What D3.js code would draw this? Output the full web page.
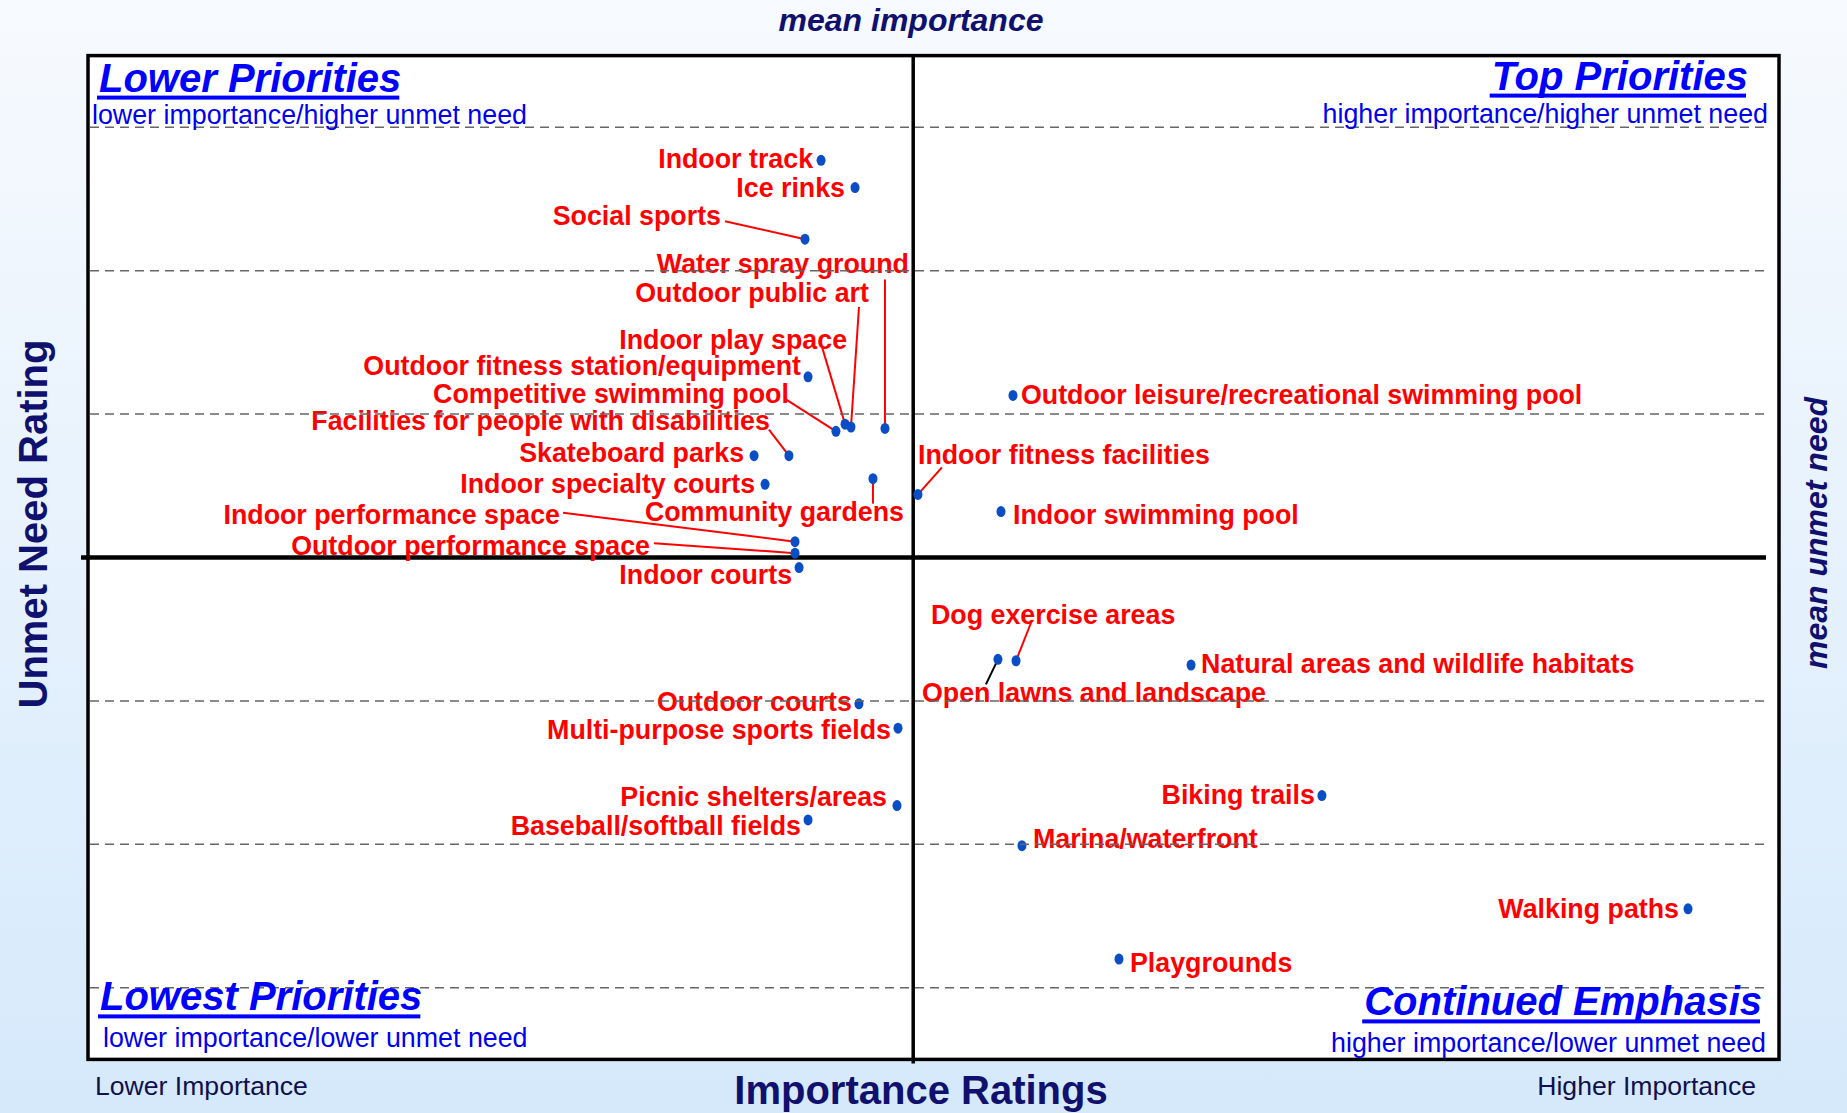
<!doctype html>
<html lang="en">
  <head>
    <meta charset="utf-8">
    <title>Importance vs Unmet Need</title>
    <script src="https://d3js.org/d3.v7.min.js"></script>
    <style>
    body { margin: 0; }
    text { font-family: "Liberation Sans", Arial, sans-serif; }
    .label { fill: #ff0000; font-weight: bold; font-size: 26.8px; }
    .grid { stroke: #666; stroke-width: 1.5; stroke-dasharray: 9 6; }
    .quad { fill: #0000ff; font-weight: bold; font-style: italic; font-size: 40px; }
    .sub { fill: #0000ee; font-size: 26.8px; }
    .axis-title { fill: #10106e; font-weight: bold; font-size: 40px; }
    .mean-title { fill: #10106e; font-weight: bold; font-style: italic; font-size: 32px; }
    .end-label { fill: #10104e; font-size: 26.6px; }
    </style>
  </head>

  <body>
    <svg width="1847" height="1113"></svg>

    <script>
      var facilities = [
        "Indoor track", "Ice rinks", "Social sports", "Water spray ground",
        "Outdoor public art", "Indoor play space", "Outdoor fitness station/equipment",
        "Competitive swimming pool", "Facilities for people with disabilities",
        "Skateboard parks", "Indoor specialty courts", "Community gardens",
        "Indoor fitness facilities", "Indoor performance space", "Outdoor performance space",
        "Indoor courts", "Outdoor leisure/recreational swimming pool", "Indoor swimming pool",
        "Dog exercise areas", "Open lawns and landscape", "Natural areas and wildlife habitats",
        "Outdoor courts", "Multi-purpose sports fields", "Picnic shelters/areas",
        "Baseball/softball fields", "Biking trails", "Marina/waterfront",
        "Walking paths", "Playgrounds"
      ];
      var importance = [
        43.35, 45.36, 42.40, 47.13,
        45.12, 44.77, 42.58,
        44.23, 41.45,
        39.39, 40.04, 46.42,
        49.08, 41.81, 41.81,
        42.05, 54.70, 53.99,
        54.88, 53.81, 65.23,
        45.59, 47.90, 47.84,
        42.58, 72.97, 55.23,
        94.62, 60.97
      ];
      var unmetNeed = [
        6.77, 6.58, 6.22, 4.90,
        4.91, 4.93, 5.26,
        4.88, 4.71,
        4.71, 4.51, 4.55,
        4.44, 4.11, 4.03,
        3.93, 5.13, 4.32,
        3.28, 3.29, 3.25,
        2.98, 2.81, 2.27,
        2.17, 2.34, 1.99,
        1.55, 1.20
      ];
      var gridValues = [1, 2, 3, 5, 6, 7];
      var meanImportance = 48.8;
      var meanUnmetNeed = 4;

      // label placement: anchor, dx, dy, leader start (dx, dy), leader colour
      var labelPlacement = {
        "Indoor track": ["end", -8, 8],
        "Ice rinks": ["end", -10, 9],
        "Social sports": ["end", -84, -14, -80, -18],
        "Water spray ground": ["end", 24, -155, 0, -149],
        "Outdoor public art": ["end", 18, -125, 8, -120],
        "Indoor play space": ["end", 2, -75, -23, -77],
        "Outdoor fitness station/equipment": ["end", -7, -2],
        "Competitive swimming pool": ["end", -47, -28, -50, -32],
        "Facilities for people with disabilities": ["end", -19, -26, -20, -26],
        "Skateboard parks": ["end", -10, 6],
        "Indoor specialty courts": ["end", -10, 9],
        "Community gardens": ["end", 31, 42, 0, 25],
        "Indoor fitness facilities": ["start", 0, -30, 24, -27],
        "Indoor performance space": ["end", -235, -18, -232, -29],
        "Outdoor performance space": ["end", -145, 2, -141, -10],
        "Indoor courts": ["end", -7, 16],
        "Outdoor leisure/recreational swimming pool": ["start", 8, 9],
        "Indoor swimming pool": ["start", 12, 12],
        "Dog exercise areas": ["start", -85, -37, 15, -38],
        "Open lawns and landscape": ["start", -76, 43, -12, 25, "#000"],
        "Natural areas and wildlife habitats": ["start", 10, 8],
        "Outdoor courts": ["end", -7, 7],
        "Multi-purpose sports fields": ["end", -7, 11],
        "Picnic shelters/areas": ["end", -10, 0],
        "Baseball/softball fields": ["end", -7, 15],
        "Biking trails": ["end", -7, 8],
        "Marina/waterfront": ["start", 11, 2],
        "Walking paths": ["end", -9, 9],
        "Playgrounds": ["start", 11, 13]
      };

      var data = facilities.map(function(name, i) {
        return { name: name, x: importance[i], y: unmetNeed[i] };
      });

      var svg = d3.select('svg');

      var x = d3.scaleLinear().domain([0, 100]).range([88, 1779]);
      var y = d3.scaleLinear().domain([0.5, 7.5]).range([1059.4, 55.6]);

      var plotLeft = x.range()[0], plotRight = x.range()[1];
      var plotTop = y.range()[1], plotBottom = y.range()[0];

      // background gradient
      var grad = svg.append('defs').append('linearGradient')
        .attr('id', 'bg').attr('x1', 0).attr('y1', 0).attr('x2', 0).attr('y2', 1);
      grad.append('stop').attr('offset', '0%').attr('stop-color', '#f7fafe');
      grad.append('stop').attr('offset', '100%').attr('stop-color', '#d5e9fb');
      svg.append('rect').attr('width', 1847).attr('height', 1113).attr('fill', 'url(#bg)');

      svg.append('rect')
        .attr('x', plotLeft).attr('y', plotTop)
        .attr('width', plotRight - plotLeft).attr('height', plotBottom - plotTop)
        .attr('fill', '#fff');

      // mean lines
      svg.append('line')
        .attr('x1', x(meanImportance)).attr('x2', x(meanImportance))
        .attr('y1', plotTop).attr('y2', plotBottom + 4)
        .attr('stroke', '#000').attr('stroke-width', 3.5);
      svg.append('line')
        .attr('x1', plotLeft - 7).attr('x2', plotRight - 13)
        .attr('y1', y(meanUnmetNeed)).attr('y2', y(meanUnmetNeed))
        .attr('stroke', '#000').attr('stroke-width', 4.5);

      // leader lines
      svg.selectAll('line.leader')
        .data(data.filter(function(d) { return labelPlacement[d.name].length > 3; }))
        .enter().append('line')
          .attr('class', 'leader')
          .attr('x1', function(d) { return x(d.x) + labelPlacement[d.name][3]; })
          .attr('y1', function(d) { return y(d.y) + labelPlacement[d.name][4]; })
          .attr('x2', function(d) { return x(d.x); })
          .attr('y2', function(d) { return y(d.y); })
          .attr('stroke', function(d) { return labelPlacement[d.name][5] || '#ff0000'; })
          .attr('stroke-width', 2);

      svg.selectAll('ellipse')
        .data(data)
        .enter().append('ellipse')
          .attr('cx', function(d) { return x(d.x); })
          .attr('cy', function(d) { return y(d.y); })
          .attr('rx', 4.5).attr('ry', 5.5)
          .attr('fill', '#0a4ec6');

      svg.selectAll('text.label')
        .data(data)
        .enter().append('text')
          .attr('class', 'label')
          .attr('text-anchor', function(d) { return labelPlacement[d.name][0]; })
          .attr('x', function(d) { return x(d.x) + labelPlacement[d.name][1]; })
          .attr('y', function(d) { return y(d.y) + labelPlacement[d.name][2]; })
          .text(function(d) { return d.name; });

      // dashed grid lines, drawn over the labels as in the original
      svg.selectAll('line.grid')
        .data(gridValues)
        .enter().append('line')
          .attr('class', 'grid')
          .attr('x1', plotLeft + 2).attr('x2', plotRight - 9)
          .attr('y1', y).attr('y2', y);

      // frame
      svg.append('rect')
        .attr('x', plotLeft).attr('y', plotTop)
        .attr('width', plotRight - plotLeft).attr('height', plotBottom - plotTop)
        .attr('fill', 'none').attr('stroke', '#000').attr('stroke-width', 3.5);

      // quadrant titles
      var quadTitles = ["Lower Priorities", "Top Priorities", "Lowest Priorities", "Continued Emphasis"];
      var quadSubs = [
        "lower importance/higher unmet need", "higher importance/higher unmet need",
        "lower importance/lower unmet need", "higher importance/lower unmet need"
      ];
      var quadPos = [
        { x: plotLeft + 11, y: plotTop + 36, sx: plotLeft + 4, sy: plotTop + 68, a: 'start' },
        { x: plotRight - 31, y: plotTop + 34, sx: plotRight - 11, sy: plotTop + 67, a: 'end' },
        { x: plotLeft + 12, y: plotBottom - 49, sx: plotLeft + 15, sy: plotBottom - 12, a: 'start' },
        { x: plotRight - 17, y: plotBottom - 44, sx: plotRight - 13, sy: plotBottom - 7, a: 'end' }
      ];
      quadTitles.forEach(function(t, i) {
        var p = quadPos[i];
        var txt = svg.append('text').attr('class', 'quad')
          .attr('x', p.x).attr('y', p.y).attr('text-anchor', p.a).text(t);
        var w = txt.node().getComputedTextLength();
        var x0 = p.a === 'end' ? p.x - w : p.x;
        svg.append('rect')
          .attr('x', x0 - 2).attr('y', p.y + 4)
          .attr('width', w).attr('height', 4)
          .attr('fill', '#0000ff');
        svg.append('text').attr('class', 'sub')
          .attr('x', p.sx).attr('y', p.sy).attr('text-anchor', p.a).text(quadSubs[i]);
      });

      // axis titles
      svg.append('text').attr('class', 'mean-title')
        .attr('x', 911).attr('y', 31).attr('text-anchor', 'middle')
        .text('mean importance');
      svg.append('text').attr('class', 'mean-title')
        .attr('transform', 'translate(1827, 533) rotate(-90)')
        .attr('text-anchor', 'middle')
        .text('mean unmet need');
      svg.append('text').attr('class', 'axis-title')
        .attr('x', 921).attr('y', 1104).attr('text-anchor', 'middle')
        .text('Importance Ratings');
      svg.append('text').attr('class', 'axis-title')
        .attr('transform', 'translate(47, 524) rotate(-90)')
        .attr('text-anchor', 'middle')
        .text('Unmet Need Rating');
      svg.append('text').attr('class', 'end-label')
        .attr('x', 95).attr('y', 1095)
        .text('Lower Importance');
      svg.append('text').attr('class', 'end-label')
        .attr('x', 1756).attr('y', 1095).attr('text-anchor', 'end')
        .text('Higher Importance');
    </script>
  </body>
</html>
